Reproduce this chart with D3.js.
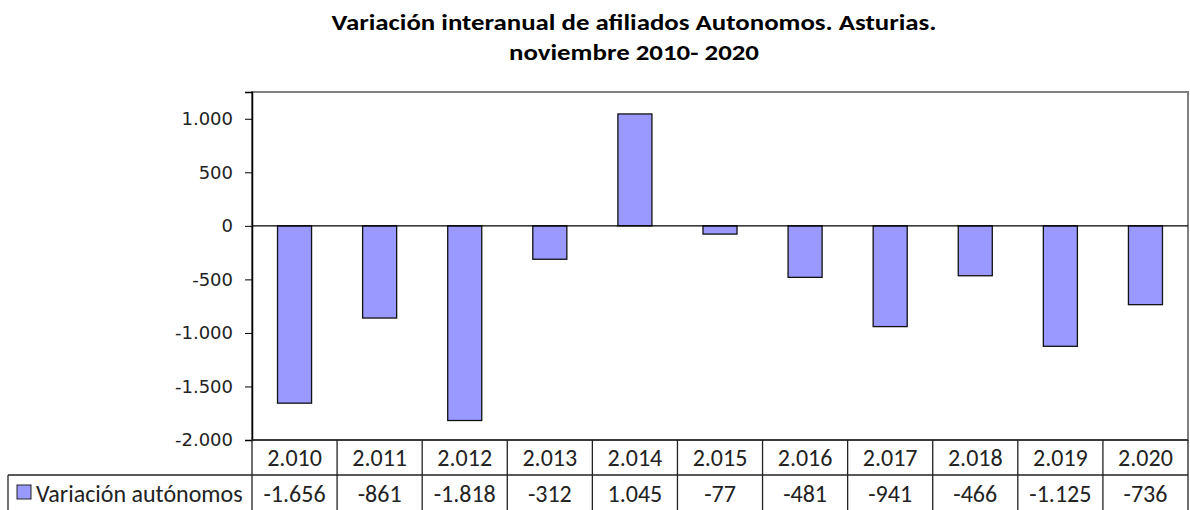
<!DOCTYPE html>
<html>
<head>
<meta charset="utf-8">
<script src="https://cdn.jsdelivr.net/npm/d3@7"></script>
<style>
  body { margin: 0; background: #fff; }
  svg { display: block; }
</style>
</head>
<body>
<svg class="chart" width="1190" height="510"></svg>
<script>
/* data */
const years = [2010, 2011, 2012, 2013, 2014, 2015, 2016, 2017, 2018, 2019, 2020]
const values = [-1656, -861, -1818, -312, 1045, -77, -481, -941, -466, -1125, -736]
const yTicks = [1000, 500, 0, -500, -1000, -1500, -2000]
const seriesName = 'Variación autónomos'
const titleLines = ['Variación interanual de afiliados Autonomos. Asturias.', 'noviembre 2010- 2020']

const es = d3.formatLocale({ decimal: ',', thousands: '.', grouping: [3], currency: ['', ' €'], minus: '-' })
const fmt = es.format(',d')

const plotL = 252, plotR = 1188, plotT = 92, plotB = 440
const rowH = 35, legendLeft = 8
const tableFont = 'Carlito, Calibri, "Open Sans", sans-serif'

const svg = d3.select('.chart')

const x = d3.scaleBand().domain(years).range([plotL, plotR]).paddingInner(0).paddingOuter(0)
const y = d3.scaleLinear().domain([-2000, 1250]).range([plotB, plotT])

/* title */
svg.append('g').selectAll('text')
  .data(titleLines).enter().append('text')
  .attr('x', 634)
  .attr('y', (d, i) => 30 + i * 30)
  .attr('text-anchor', 'middle')
  .attr('font-family', tableFont)
  .attr('font-weight', 'bold')
  .attr('font-size', '22px')
  .attr('textLength', (d, i) => i === 0 ? 605 : 250)
  .attr('lengthAdjust', 'spacingAndGlyphs')
  .text(d => d)

/* plot frame */
svg.append('rect')
  .attr('x', plotL).attr('y', plotT)
  .attr('width', plotR - plotL).attr('height', plotB - plotT)
  .attr('fill', 'none').attr('stroke', '#808080').attr('stroke-width', 2)

/* y axis */
const yAxis = svg.append('g')
  .attr('transform', `translate(${plotL},0)`)
  .call(d3.axisLeft(y).tickValues(yTicks).tickFormat(fmt).tickSize(7).tickPadding(12))
yAxis.select('.domain').attr('stroke', '#000').attr('stroke-width', 1.5)
yAxis.selectAll('.tick line').attr('stroke', '#000')
yAxis.selectAll('text')
  .attr('font-family', '"DejaVu Sans", Verdana, sans-serif')
  .attr('font-size', '18px')
  .attr('fill', '#222')

/* bars */
const bw = x.bandwidth() * 0.4
svg.append('g').selectAll('rect')
  .data(values).enter().append('rect')
  .attr('x', (d, i) => x(years[i]) + (x.bandwidth() - bw) / 2)
  .attr('y', d => y(Math.max(0, d)))
  .attr('width', bw)
  .attr('height', d => Math.abs(y(d) - y(0)))
  .attr('fill', '#9999FF')
  .attr('stroke', '#111')
  .attr('stroke-width', 1.3)

/* zero line */
svg.append('line')
  .attr('x1', plotL).attr('x2', plotR)
  .attr('y1', y(0)).attr('y2', y(0))
  .attr('stroke', '#000').attr('stroke-width', 1.3)

/* data table */
const table = svg.append('g')
const lineStyle = sel => sel.attr('stroke', '#222').attr('stroke-width', 1.3)

table.append('line').attr('x1', plotL).attr('x2', plotR).attr('y1', plotB).attr('y2', plotB).call(lineStyle)
table.append('line').attr('x1', legendLeft).attr('x2', plotR).attr('y1', plotB + rowH).attr('y2', plotB + rowH).call(lineStyle)
table.append('line').attr('x1', legendLeft).attr('x2', legendLeft).attr('y1', plotB + rowH).attr('y2', 520).call(lineStyle)
table.selectAll('.col')
  .data(years.concat(['end'])).enter().append('line')
  .attr('class', 'col')
  .attr('x1', d => d === 'end' ? plotR : x(d))
  .attr('x2', d => d === 'end' ? plotR : x(d))
  .attr('y1', plotB).attr('y2', 520)
  .call(lineStyle)

table.selectAll('.yr')
  .data(years).enter().append('text')
  .attr('x', d => x(d) + x.bandwidth() / 2)
  .attr('y', plotB + 26)
  .attr('text-anchor', 'middle')
  .attr('font-family', tableFont)
  .attr('font-size', '24px')
  .attr('fill', '#222')
  .text(d => fmt(d))

table.selectAll('.val')
  .data(values).enter().append('text')
  .attr('x', (d, i) => x(years[i]) + x.bandwidth() / 2)
  .attr('y', plotB + rowH + 27)
  .attr('text-anchor', 'middle')
  .attr('font-family', tableFont)
  .attr('font-size', '24px')
  .attr('fill', '#222')
  .text(d => fmt(d))

/* legend key */
table.append('rect')
  .attr('x', 17).attr('y', plotB + rowH + 10)
  .attr('width', 14).attr('height', 14)
  .attr('fill', '#9999FF').attr('stroke', '#222').attr('stroke-width', 1)
table.append('text')
  .attr('x', 36).attr('y', plotB + rowH + 27)
  .attr('font-family', tableFont)
  .attr('font-size', '24px')
  .attr('fill', '#222')
  .text(seriesName)
</script>
</body>
</html>
